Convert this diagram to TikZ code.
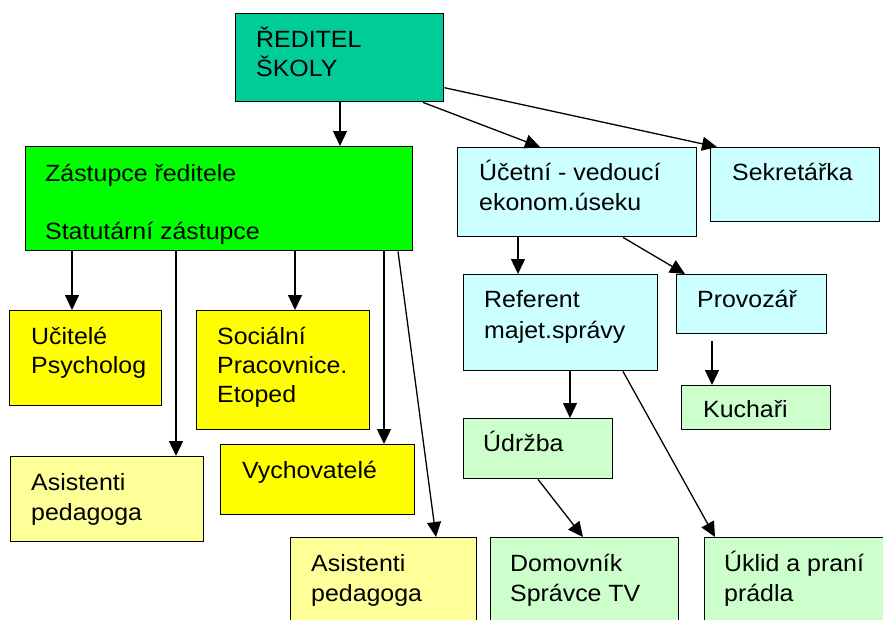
\documentclass[tikz,border=0pt]{standalone}
\usepackage{fontspec}
\setmainfont[FakeStretch=1.06]{Liberation Sans}
\usetikzlibrary{arrows.meta}
\definecolor{cTeal}{HTML}{00CC99}
\definecolor{cGreen}{HTML}{00FF00}
\definecolor{cCyan}{HTML}{CCFFFF}
\definecolor{cYel}{HTML}{FFFF00}
\definecolor{cLYel}{HTML}{FFFF99}
\definecolor{cLGreen}{HTML}{CCFFCC}
\begin{document}
\begin{tikzpicture}[x=1pt,y=-1pt,
  box/.style={draw=black, line width=1.4pt, inner sep=0pt, anchor=north west},
  lbl/.style={anchor=base west, inner sep=0pt, font=\fontsize{23.5}{29}\selectfont},
  conn/.style={-{Triangle[length=15pt,width=14pt]}, line width=1.3pt}]
\useasboundingbox (0,0) rectangle (883,619);
\clip (0,0) rectangle (883,619);
\fill[white] (0,0) rectangle (883,619);
% boxes
\node[box, fill=cTeal,  minimum width=208pt, minimum height=88pt]  (red)  at (235,13)  {};
\node[box, fill=cGreen, minimum width=387pt, minimum height=104pt] (zast) at (25,146)  {};
\node[box, fill=cCyan,  minimum width=239pt, minimum height=89pt]  (uct)  at (457,147) {};
\node[box, fill=cCyan,  minimum width=169pt, minimum height=74pt]  (sek)  at (710,147) {};
\node[box, fill=cYel,   minimum width=152pt, minimum height=95pt]  (uc)   at (9,310)   {};
\node[box, fill=cYel,   minimum width=173pt, minimum height=119pt] (soc)  at (196,310) {};
\node[box, fill=cYel,   minimum width=194pt, minimum height=70pt]  (vych) at (220,444) {};
\node[box, fill=cLYel,  minimum width=193pt, minimum height=85pt]  (as1)  at (10,456)  {};
\node[box, fill=cLYel,  minimum width=186pt, minimum height=100pt] (as2)  at (290,537) {};
\node[box, fill=cLGreen,minimum width=188pt, minimum height=100pt] (dom)  at (490,537) {};
\node[box, fill=cLGreen,minimum width=200pt, minimum height=100pt] (ukl)  at (704,537) {};
\node[box, fill=cLGreen,minimum width=149pt, minimum height=60pt]  (udr)  at (463,418) {};
\node[box, fill=cCyan,  minimum width=194pt, minimum height=96pt]  (ref)  at (463,274) {};
\node[box, fill=cCyan,  minimum width=150pt, minimum height=59pt]  (prov) at (676,274) {};
\node[box, fill=cLGreen,minimum width=149pt, minimum height=44pt]  (kuch) at (681,385) {};
% labels
\node[lbl] (t1) at (256,47) {ŘEDITEL};
\node[lbl] (t2) at (256,76) {ŠKOLY};
\node[lbl] (t3) at (45,181) {Zástupce ředitele};
\node[lbl] (t4) at (45,239) {Statutární zástupce};
\node[lbl] (t5) at (479,180) {Účetní - vedoucí};
\node[lbl] (t6) at (479,210) {ekonom.úseku};
\node[lbl] (t7) at (732,180) {Sekretářka};
\node[lbl] (t8) at (31,344) {Učitelé};
\node[lbl] (t9) at (31,373) {Psycholog};
\node[lbl] (t10) at (217,344) {Sociální};
\node[lbl] (t11) at (217,373) {Pracovnice.};
\node[lbl] (t12) at (217,402) {Etoped};
\node[lbl] (t13) at (242,478) {Vychovatelé};
\node[lbl] (t14) at (31,490) {Asistenti};
\node[lbl] (t15) at (31,520) {pedagoga};
\node[lbl] (t16) at (311,571) {Asistenti};
\node[lbl] (t17) at (311,601) {pedagoga};
\node[lbl] (t18) at (510,571) {Domovník};
\node[lbl] (t19) at (510,601) {Správce TV};
\node[lbl] (t20) at (724,571) {Úklid a praní};
\node[lbl] (t21) at (724,601) {prádla};
\node[lbl] (t22) at (483,451) {Údržba};
\node[lbl] (t23) at (484,307) {Referent};
\node[lbl] (t24) at (484,338) {majet.správy};
\node[lbl] (t25) at (697,307) {Provozář};
\node[lbl] (t26) at (703,417) {Kuchaři};
% connectors
\draw[conn] ([xshift=105pt]red.south west) coordinate (a1) -- (a1 |- zast.north);
\draw[conn] ([xshift=188pt]red.south west) -- ([xshift=83pt]uct.north west);
\draw[conn] ([yshift=-30pt]red.east) -- ([xshift=7pt]sek.north west);
\draw[conn] ([xshift=47pt]zast.south west) coordinate (a4) -- (a4 |- uc.north);
\draw[conn] ([xshift=151pt]zast.south west) coordinate (a5) -- (a5 |- as1.north);
\draw[conn] ([xshift=270pt]zast.south west) coordinate (a6) -- (a6 |- soc.north);
\draw[conn] ([xshift=359pt]zast.south west) coordinate (a7) -- (a7 |- vych.north);
\draw[conn] ([xshift=373pt]zast.south west) -- ([xshift=146pt]as2.north west);
\draw[conn] ([xshift=61pt]uct.south west) coordinate (a9) -- (a9 |- ref.north);
\draw[conn] ([xshift=166pt]uct.south west) -- ([xshift=9pt]prov.north west);
\draw[conn] ([xshift=36pt,yshift=-7pt]prov.south west) coordinate (a11) -- (a11 |- kuch.north);
\draw[conn] ([xshift=107pt]ref.south west) coordinate (a12) -- (a12 |- udr.north);
\draw[conn] ([xshift=160pt]ref.south west) -- ([xshift=11pt]ukl.north west);
\draw[conn] ([xshift=75pt]udr.south west) -- ([xshift=93pt]dom.north west);
\end{tikzpicture}
\end{document}
